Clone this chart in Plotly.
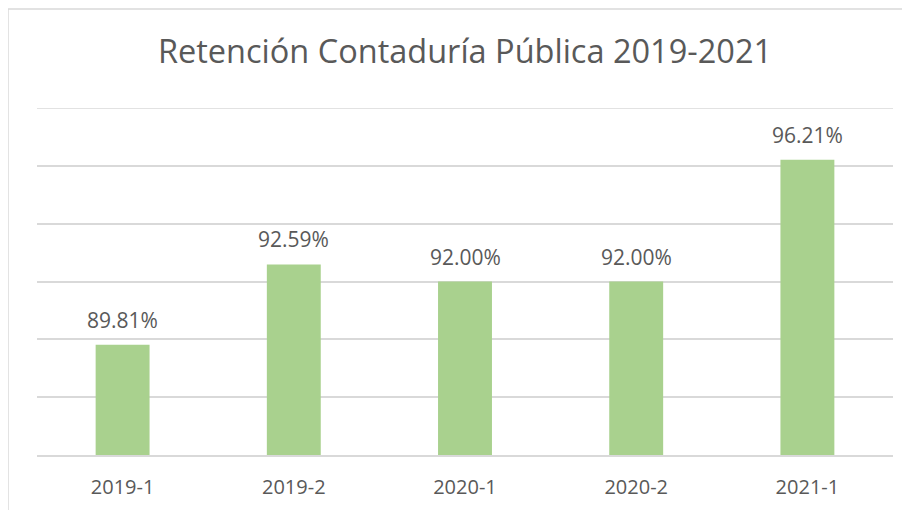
import plotly.graph_objects as go

categories = ["2019-1", "2019-2", "2020-1", "2020-2", "2021-1"]
retention = [89.81, 92.59, 92.00, 92.00, 96.21]
labels = ["89.81%", "92.59%", "92.00%", "92.00%", "96.21%"]
y_min, y_max, y_step = 86, 98, 2

title = "Retención Contaduría Pública 2019-2021"
text_color = "#595959"
grid_color = "#D9D9D9"
font_family = "Open Sans"

fig = go.Figure()
fig.add_trace(go.Bar(
    x=categories, y=retention,
    marker=dict(color="#A9D18E", line=dict(width=0)),
    hoverinfo="skip",
))

for c, v, t in zip(categories, retention, labels):
    fig.add_annotation(x=c, y=v, text=t, showarrow=False, yanchor="bottom",
                       yshift=9, font=dict(size=21, color=text_color, family=font_family))

# top gridline at the axis maximum (plotly omits the gridline on the range edge)
fig.add_shape(type="line", xref="paper", yref="y", x0=0, x1=1, y0=y_max, y1=y_max,
              line=dict(color=grid_color, width=1.5), layer="below")

fig.add_shape(type="rect", xref="paper", yref="paper",
              x0=-0.0339, x1=1.2, y0=-0.5, y1=1.2853,
              line=dict(color=grid_color, width=1.5), fillcolor="rgba(0,0,0,0)", layer="below")

fig.update_layout(
    width=902, height=502,
    margin=dict(l=29, r=17, t=100, b=55),
    paper_bgcolor="white", plot_bgcolor="white",
    bargap=0.685,
    showlegend=False,
    title=dict(text=title, xref="paper", x=0.5, xanchor="center", y=1 - 44/502, yanchor="middle",
               font=dict(size=32.5, color=text_color, family=font_family), automargin=False),
    xaxis=dict(type="category", showgrid=False, showline=True, linecolor=grid_color, linewidth=1.5,
               tickfont=dict(size=20, color=text_color, family=font_family),
               ticks="", ticklabelstandoff=13, automargin=False),
    yaxis=dict(range=[y_min, y_max], dtick=y_step, tick0=y_min, showgrid=True, gridcolor=grid_color,
               gridwidth=1.5, showticklabels=False, zeroline=False, ticks="", automargin=False),
)

fig.write_html("out.html")
